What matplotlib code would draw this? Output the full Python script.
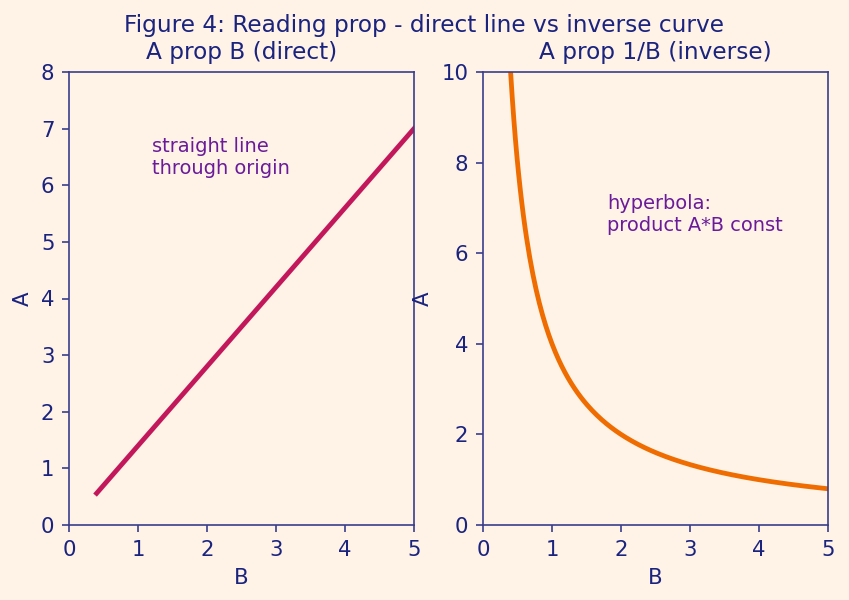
import numpy as np
import matplotlib
matplotlib.use("Agg")
import matplotlib.pyplot as plt

# data
B_vals = np.linspace(0.4, 5, 200)
k_direct = 1.4
k_inverse = 4.0
A_direct = k_direct * B_vals
A_inverse = k_inverse / B_vals

bg = "#FFF2E6"
navy = "#1A237E"
spine = "#3A3D8C"
purple = "#6A1B9A"

fig = plt.figure(figsize=(5.66, 4.0), dpi=150, facecolor=bg)
ax1 = fig.add_axes([0.0813, 0.125, 0.4063, 0.755])
ax2 = fig.add_axes([0.5689, 0.125, 0.4064, 0.755])

for ax in (ax1, ax2):
    ax.set_facecolor(bg)
    for s in ax.spines.values():
        s.set_color(spine)
    ax.tick_params(colors=spine, labelcolor=navy, labelsize=10.2)
    ax.set_xlim(0, 5)
    ax.set_xlabel("B", color=navy, fontsize=10.2)
    ax.set_ylabel("A", color=navy, fontsize=10.2)

ax1.plot(B_vals, A_direct, color="#C2185B", lw=2.3)
ax1.set_ylim(0, 8)
ax1.set_title("A prop B (direct)", color=navy, fontsize=11.2, pad=6.2)
ax1.text(1.2, 6.2, "straight line\nthrough origin", color=purple, fontsize=9.3)

ax2.plot(B_vals, A_inverse, color="#EF6C00", lw=2.3)
ax2.set_ylim(0, 10)
ax2.set_title("A prop 1/B (inverse)", color=navy, fontsize=11.2, pad=6.2)
ax2.text(1.8, 6.5, "hyperbola:\nproduct A*B const", color=purple, fontsize=9.3)

fig.suptitle("Figure 4: Reading prop - direct line vs inverse curve", color=navy, fontsize=11.2, y=0.977)

fig.savefig("out.png", dpi=150, facecolor=bg)
